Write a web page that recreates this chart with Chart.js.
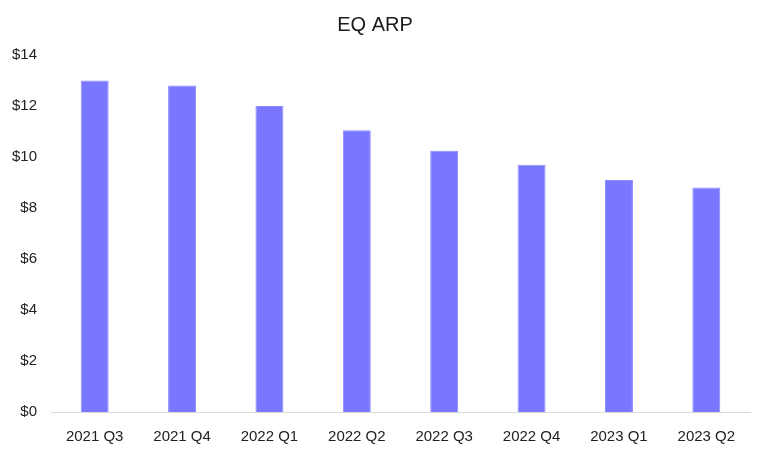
<!DOCTYPE html>
<html>
<head>
<meta charset="utf-8">
<script src="https://cdn.jsdelivr.net/npm/chart.js@4"></script>
<style>
  html, body { margin: 0; padding: 0; background: #fff; }
  #wrap { width: 768px; height: 451px; }
</style>
</head>
<body>
<div id="wrap"><canvas id="arpChart" width="768" height="451"></canvas></div>
<script>
// 数据
const quarters = ['2021 Q3', '2021 Q4', '2022 Q1', '2022 Q2', '2022 Q3', '2022 Q4', '2023 Q1', '2023 Q2'];
const arpValues = [13.0, 12.8, 12.0, 11.05, 10.25, 9.7, 9.1, 8.8];
const yTicks = [0, 2, 4, 6, 8, 10, 12, 14];

const fontFamily = '"Liberation Sans", Arial, sans-serif';

new Chart(document.getElementById('arpChart').getContext('2d'), {
    type: 'bar',
    data: {
        labels: quarters,
        datasets: [{
            label: 'EQ ARP',
            data: arpValues,
            backgroundColor: '#7A77FF',
            borderColor: '#8C8AFF',
            borderWidth: 1,
            barPercentage: 0.32,
            categoryPercentage: 1
        }]
    },
    options: {
        responsive: false,
        animation: false,
        layout: { padding: { left: 0, right: 18, top: 8, bottom: 0 } },
        plugins: {
            legend: { display: false },
            tooltip: { enabled: false },
            title: {
                display: true,
                text: 'EQ ARP',
                color: '#1a1a1a',
                font: { family: fontFamily, size: 20, weight: 'normal' },
                padding: { top: 5, bottom: 18 }
            }
        },
        scales: {
            x: {
                afterFit: axis => { axis.height = 39; },
                grid: { display: false, drawTicks: false },
                border: { display: true, color: '#d9d9d9', width: 1 },
                ticks: {
                    color: '#222',
                    font: { family: fontFamily, size: 15 },
                    padding: 16,
                    maxRotation: 0
                }
            },
            y: {
                min: 0,
                max: 14,
                afterBuildTicks: axis => {
                    axis.ticks = yTicks.map(v => ({ value: v }));
                },
                afterFit: axis => { axis.width = 51; },
                grid: { display: false, drawTicks: false },
                border: { display: false },
                ticks: {
                    color: '#222',
                    font: { family: fontFamily, size: 15 },
                    padding: 14,
                    callback: v => '$' + v
                }
            }
        }
    }
});
</script>
</body>
</html>
